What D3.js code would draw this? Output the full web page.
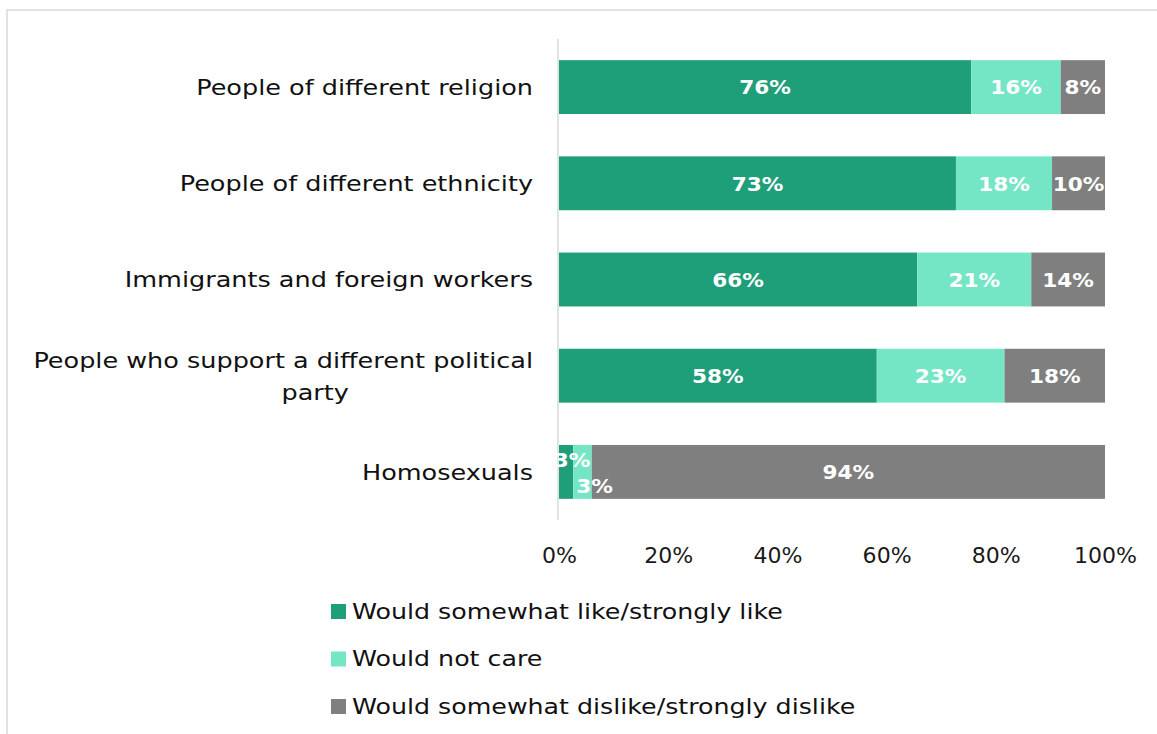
<!DOCTYPE html>
<html><head><meta charset="utf-8">
<script src="https://cdn.jsdelivr.net/npm/d3@7/dist/d3.min.js"></script>
<style>
body{margin:0;background:#fff;}
svg{display:block;}
text{font-family:"DejaVu Sans",sans-serif;}
</style></head>
<body>
<svg id="chart" width="1157" height="734"></svg>
<script>
const categories = ["People of different religion","People of different ethnicity","Immigrants and foreign workers","People who support a different political party","Homosexuals"];
const seriesNames = ["Would somewhat like/strongly like","Would not care","Would somewhat dislike/strongly dislike"];
const likeValues = [75.5, 72.7, 65.6, 58.2, 2.6];
const notCareValues = [16.4, 17.6, 20.9, 23.4, 3.4];
const dislikeValues = [8.1, 9.7, 13.5, 18.4, 94.0];
const tickValues = [0, 20, 40, 60, 80, 100];
const colors = ["#1f9e7a", "#74e6c6", "#7f7f7f"];

const svg = d3.select("#chart");
svg.append("rect").attr("x",7).attr("y",10).attr("width",1170).attr("height",760)
  .attr("fill","none").attr("stroke","#d9d9d9").attr("stroke-width",1.5);

const x = d3.scaleLinear().domain([0,100]).range([559,1105]);
const y = d3.scaleBand().domain(categories).range([39,520]).paddingInner(0.44).paddingOuter(0.22);

const rows = categories.map((c,i)=>({cat:c, vals:[likeValues[i],notCareValues[i],dislikeValues[i]]}));
const segs = [];
rows.forEach(r=>{let acc=0; r.vals.forEach((v,j)=>{segs.push({cat:r.cat,j,x0:acc,x1:acc+v,v}); acc+=v;});});

svg.append("g").selectAll("rect").data(segs).join("rect")
  .attr("x",d=>x(d.x0)).attr("width",d=>x(d.x1)-x(d.x0))
  .attr("y",d=>y(d.cat)).attr("height",y.bandwidth())
  .attr("fill",d=>colors[d.j]);

svg.append("line").attr("x1",x(0)-1).attr("x2",x(0)-1).attr("y1",39).attr("y2",520)
  .attr("stroke","#d9d9d9").attr("stroke-width",1.5);

const SX = 1.16, FS = 22;

svg.append("g").selectAll("text").data(segs).join("text")
  .attr("transform",d=>{
    let cx=(x(d.x0)+x(d.x1))/2;
    let cy=y(d.cat)+y.bandwidth()/2;
    if (x(d.x1)-x(d.x0)<30){ cy += (d.j===0? -12 : 14); cx += (d.j===0? 6 : 12); }
    return `translate(${cx},${cy}) scale(1.08,1)`;
  })
  .attr("dy","0.36em").attr("text-anchor","middle")
  .attr("fill","#fff").attr("font-weight","bold").attr("font-size",20)
  .text(d=>Math.round(d.v)+"%");

const catG = svg.append("g");
categories.forEach(c=>{
  const cy = y(c)+y.bandwidth()/2;
  if (c.length>40){
    const l1="People who support a different political", l2="party";
    const t1=catG.append("text").attr("transform",`translate(533,${cy-16}) scale(${SX},1)`).attr("dy","0.36em").attr("text-anchor","end")
      .attr("font-size",FS).attr("fill","#111").text(l1);
    const w=t1.node().getComputedTextLength()*SX;
    catG.append("text").attr("transform",`translate(${533-w/2+32},${cy+16}) scale(${SX},1)`).attr("dy","0.36em").attr("text-anchor","middle")
      .attr("font-size",FS).attr("fill","#111").text(l2);
  } else {
    catG.append("text").attr("transform",`translate(533,${cy}) scale(${SX},1)`).attr("dy","0.36em").attr("text-anchor","end")
      .attr("font-size",FS).attr("fill","#111").text(c);
  }
});

const ax = d3.axisBottom(x).tickValues(tickValues).tickSize(0).tickFormat(d=>d+"%");
const axG = svg.append("g").attr("transform","translate(0,555)").call(ax);
axG.select(".domain").remove();
axG.selectAll("text").attr("font-size",21).attr("fill","#1a1a1a").attr("dy","0.36em").attr("y",0)
  .attr("transform","scale(1.05,1)")
  .style("font-family","'DejaVu Sans', sans-serif");

const leg = svg.append("g");
seriesNames.forEach((s,i)=>{
  const ly = 611 + i*47.5;
  leg.append("rect").attr("x",331).attr("y",ly-7).attr("width",15).attr("height",15).attr("fill",colors[i]);
  leg.append("text").attr("transform",`translate(352,${ly}) scale(1.15,1)`).attr("dy","0.36em").attr("font-size",FS).attr("fill","#111").text(s);
});
</script>
</body></html>
